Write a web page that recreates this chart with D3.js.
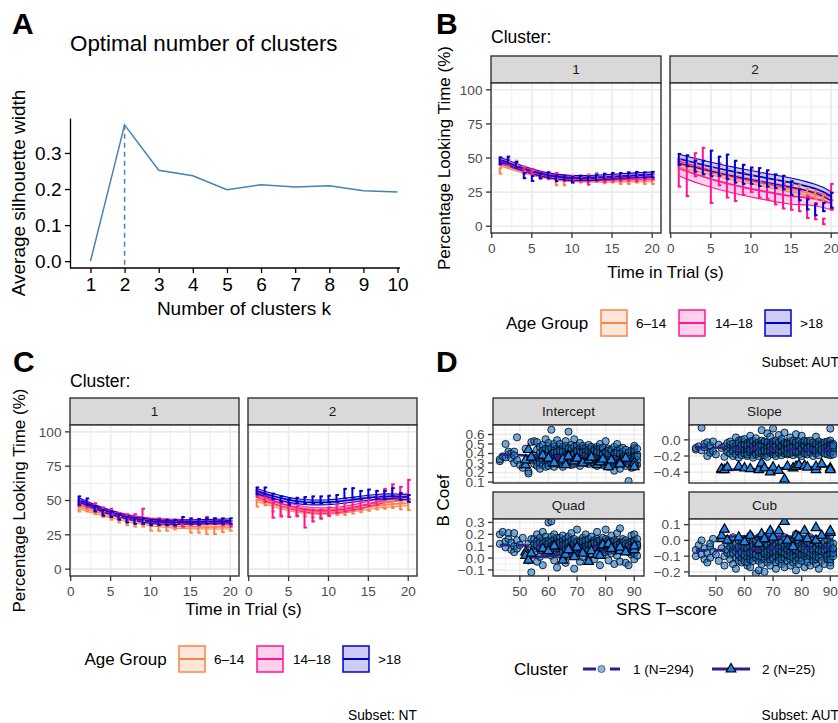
<!DOCTYPE html>
<html><head><meta charset="utf-8">
<script src="https://d3js.org/d3.v7.min.js"></script>
<style>
html,body{margin:0;padding:0;background:#fff;}
svg{display:block;}
</style></head><body>
<svg id="fig" width="838" height="723" xmlns="http://www.w3.org/2000/svg"></svg>
<script>
// ---------------- DATA ----------------
// Panel A: silhouette
const silK = [1,2,3,4,5,6,7,8,9,10];
const silWidth = [0.000,0.378,0.252,0.237,0.198,0.212,0.206,0.209,0.195,0.192];
const silTicks = [0.0,0.1,0.2,0.3];
const optimalK = 2;

// Panels B & C: looking time
const timeSec = [1,2,3,4,5,6,7,8,9,10,11,12,13,14,15,16,17,18,19,20];
const timeTicks = [0,5,10,15,20];
const pctTicks = [0,25,50,75,100];
const ageGroups = ["6\u201314","14\u201318",">18"];
const clusterLabels = ["1","2"];

// AUT, cluster 1  (order: 6-14, 14-18, >18)
const autC1Fit = [
 [45.8,43.9,42.0,40.3,38.8,37.4,36.3,35.4,34.7,34.2,33.9,33.8,33.8,33.8,33.9,33.9,34.0,34.0,34.1,34.1],
 [47.6,45.4,43.3,41.4,39.7,38.2,37.0,36.0,35.3,34.9,34.7,34.7,34.8,35.0,35.2,35.4,35.6,35.8,36.0,36.2],
 [49.0,46.6,44.3,42.2,40.3,38.7,37.4,36.4,35.8,35.4,35.3,35.4,35.6,35.9,36.2,36.6,36.9,37.3,37.6,38.0]];
const autC1Se = [1.5,1.5,1.8];
const autC1BarMid = [
 [40.6,45,46.3,42,39,37,37.5,32,32,34,34,36,37,33.5,34,33,33,34,33,33],
 [47,47,45,41,40,38,36.5,37,35,35,35,33,35,34.5,35,35,35.5,35,35.5,36],
 [48,48.5,45,37,35,37,37.5,35,35.5,34,35.5,35,35.8,36.5,37,37,37.5,37.8,37.5,37.8]];
const autC1BarErr = [
 [2,2,1.8,2,2,2,2,2,2,2,2,2,2,2,2,2,2,2,2,2],
 [2,2,2,2,2,2,2,2,2,2,2,2.5,2,2,2,2,2,2,2,2],
 [2.5,2.5,2,1.8,1.8,2,2,2,1.5,2,1.5,1.5,2,2,2,2,2,2,2,2]];

// AUT, cluster 2
const autC2Fit = [
 [45.5,44.0,42.5,41.0,39.6,38.2,36.8,35.5,34.2,33.0,31.8,30.6,29.4,28.2,27.0,25.8,24.4,22.9,21.0,18.7],
 [42.5,40.3,38.3,36.4,34.6,32.9,31.4,30.0,28.7,27.4,26.2,25.1,24.0,23.0,22.1,21.5,20.9,20.0,18.6,16.8],
 [49.5,48.0,46.5,45.0,43.6,42.3,41.0,39.8,38.6,37.5,36.4,35.3,34.2,33.1,32.0,30.7,29.2,27.5,25.3,22.0]];
const autC2Se = [2, [5.5,5.8,6,6,6,6,6,6,6,6,6,6,6,6,6,5.7,5.3,5,4.9,4.7], 3.3];
const autC2BarMid = [
 [46,44,43,41,40,41,39,37,42,40,36,33,31,30,28,27,25,23,20,16],
 [39,33.5,45,49.5,28,38,29,27,31,33,30,29,25,22,21,19,14,11,3.5,21.5],
 [49,48,44,43,46,44,43.5,40,38,37,36,35,33,32,28,23,16,12,14,19]];
const autC2BarErr = [
 [3,3,3,3,3,3,3,3,3,3,3,3,3,3,3,3,3,3,3,3],
 [10,11.5,8.5,8,11,8,8,8.5,8,8,9,9,9,9,9,8,8,6,2,9.5],
 [4,4,4,5,9.4,7,9,8,7,6,6.6,6,5,5,5,4,3.7,4,3,5.5]];

// NT, cluster 1
const ntC1Fit = [
 [45.5,43.7,42.0,40.4,38.9,37.5,36.2,35.0,34.0,33.1,32.4,31.8,31.4,31.1,30.9,30.8,30.7,30.7,30.7,30.7],
 [49.0,47.0,45.0,43.1,41.4,39.9,38.5,37.4,36.5,35.8,35.3,35.0,34.8,34.7,34.6,34.5,34.4,34.3,34.2,34.0],
 [50.5,48.0,45.6,43.4,41.4,39.6,38.0,36.7,35.7,34.9,34.4,34.2,34.1,34.2,34.3,34.5,34.6,34.8,35.0,35.2]];
const ntC1Se = [1.5,1.5,1.5];
const ntC1BarMid = [
 [44,44,42,40,38,36,34,33,33,30,30,30,31,32,29,29,28,28,29,30],
 [48,47,46,43,42,39,38,38,40,34,35,34,33,33,34,34,36,35,34,33],
 [50,49,44,41,40,38,36,35,35,34,34,34,34,36,35,34.5,35,35,35,35]];
const ntC1BarErr = [
 [2,2,2,2,2,2,2,2,2,2,2,2,2,2,2.5,2.5,2.5,2.5,2,2],
 [2,2,2,2,2,2,2,2,4,2,2,2,2,2,2,2,2,2,2,2],
 [3,2.5,2,2,2,2,2,2,2,2,2,2,2,2,2,2,2,2,2,2]];

// NT, cluster 2
const ntC2Fit = [
 [51.0,49.2,47.4,45.8,44.4,43.3,42.5,42.0,41.8,41.9,42.2,42.8,43.6,44.4,45.3,46.1,46.8,47.3,47.7,48.0],
 [54.5,52.2,50.0,48.0,46.2,44.7,43.6,42.9,42.6,42.7,43.1,43.8,44.8,46.0,47.4,48.9,50.3,51.5,52.4,53.0],
 [57.0,55.0,53.3,51.8,50.5,49.5,48.9,48.6,48.6,48.8,49.2,49.8,50.5,51.3,52.0,52.6,53.0,53.1,52.8,52.2]];
const ntC2Se = [1.8,2,1.8];
const ntC2BarMid = [
 [48,49,45,41,41,42,41,40,39,41,42,42,43,44,45,46,46.5,47,46,46],
 [55,52,43,44,42,42,37,39,40,42,44,45,46,47,49,50,55,57.5,56,58],
 [57,57,53,51,49,50,50,50.5,50.5,51,51.5,55,55.5,54,55,54,54,56,53,51.5]];
const ntC2BarErr = [
 [2.5,2.5,3,3,3,2.5,2.5,2.5,2.5,2.5,2.5,2.5,2.5,2.5,2.5,2.5,2.5,2.5,2.5,3],
 [2.5,3,5.5,5,4,3.5,6.7,4.3,3,3,3,3,3,3,3,3,3.5,4.3,4,7],
 [2.5,2.5,2,2,2,2,2.5,2.5,2.5,2.5,2.5,3.5,3.5,3,3,3,3,3,2.5,2.5]];

// Panel D: B coefficients vs SRS T-score
const coefNames = ["Intercept","Slope","Quad","Cub"];
const clusterLegend = ["1 (N=294)","2 (N=25)"];
const srsTicks = [50,60,70,80,90];
// cluster 1: SRS T-score frequency table [score, count]
const srsFreqC1 = [[43,2],[44,1],[45,2],[46,2],[47,2],[48,3],[49,2],[50,1],[51,1],[52,1],[53,2],[54,3],
 [55,4],[56,5],[57,5],[58,6],[59,6],[60,8],[61,8],[62,8],[63,8],[64,8],[65,8],[66,8],[67,8],[68,8],
 [69,8],[70,8],[71,8],[72,8],[73,8],[74,8],[75,8],[76,8],[77,8],[78,8],[79,8],[80,8],[81,8],
 [82,7],[83,7],[84,7],[85,7],[86,7],[87,5],[88,5],[89,6],[90,14],[91,5]];
// cluster 1 coefficients (x100), in the order of srsFreqC1
const interceptC1 = [32,34,37,50,36,39,42,40,35,42,38,30,57,33,28,25,45,21,19,33,36,52,
 53,38,34,29,44,52,36,31,27,41,47,35,30,24,39,49,43,37,33,28,45,34,40,31,26,55,
 42,36,48,30,38,51,27,44,35,40,46,33,29,65,39,37,43,31,36,47,26,41,34,50,38,45,32,40,54,29,36,42,
 38,45,33,41,29,50,36,43,40,35,47,31,44,38,26,42,53,37,34,45,39,30,48,36,41,63,35,44,32,39,46,37,
 43,28,40,49,34,38,45,31,36,42,55,33,40,47,29,39,44,37,32,48,41,35,43,30,38,46,34,40,51,36,42,27,
 45,33,39,44,31,48,37,41,35,43,30,46,39,34,42,38,49,32,40,36,44,29,41,37,33,45,38,42,35,47,31,39,
 40,34,45,31,38,43,36,29,47,35,41,33,44,38,27,42,36,50,32,39,45,34,41,30,37,44,33,40,28,46,35,39,
 42,31,38,53,34,41,29,36,45,33,39,26,43,37,31,40,
 35,42,30,38,44,33,27,40,36,47,31,39,22,34,43,29,37,50,33,41,28,36,45,32,38,24,40,34,31,42,37,29,46,35,33,
 38,30,44,34,27,36,11,41,29,33,32,39,25,43,35,30,40,33,46,29,37,35,42,26,38,44,31,36,48,34,39,28,45,33,37];
const slopeC1 = [-12,-10,-8,15,-13,-5,-9,-20,-3,-11,-7,-16,-2,-14,-18,-6,-10,-21,-8,-12,-4,-15,
 -11,-6,-17,-2,-13,-9,-20,-5,-14,3,-10,-18,-7,-12,-1,-15,-8,-22,-4,-11,-16,-9,-13,0,-19,-6,
 -10,-14,-3,-8,-17,-12,1,-6,-20,-9,-13,-4,-15,-11,-7,-18,-2,-10,-14,5,-8,-16,-12,-5,-19,-9,-3,-13,-11,-7,-22,-1,
 -9,-15,-4,-12,-18,-7,-11,2,-14,-6,-10,-20,-3,-13,-8,-16,-1,-11,-17,-5,-9,12,-14,-7,-12,-19,-4,-10,-15,-2,-8,-13,
 8,-6,-11,-17,-9,-3,-14,-21,-7,-12,-5,-16,-10,4,-13,-8,-18,-2,-11,-6,-15,-9,14,-12,-4,-17,-10,-7,-13,-1,-20,-8,
 -11,-5,-14,6,-9,-16,-3,-12,-7,-19,-10,-2,-13,-8,-15,1,-6,-11,-17,-4,-9,-14,9,-12,-3,-10,-18,-7,-13,-5,-11,-16,
 -8,-14,-2,-11,-17,-6,-10,3,-13,-7,-19,-4,-12,-9,-15,-1,-10,-16,-5,-12,7,-8,-14,-3,-11,-18,-6,-9,-13,-2,-15,-7,
 -10,-4,-12,-20,-8,-14,5,-11,-6,-16,-3,-9,-13,-7,-17,-1,
 -12,-5,-9,-15,-2,-11,-18,-7,-13,-4,-10,-16,-1,-8,-14,-6,-11,-20,-3,-9,-12,4,-15,-7,-10,-17,-5,-13,-8,-2,-11,-14,-6,-19,-9,
 -10,-4,-15,-7,-12,-13,-6,-9,-17,-3,-11,-5,-14,-8,-18,-2,-9,-15,-4,-12,-7,-19,-10,-1,-13,-6,-16,-8,14,-11,-14,-5,-10,-18,-7];
const quadC1 = [12,20,22,14,9,21,16,7,13,21,10,5,15,8,11,17,4,-2,12,16,-12,9,
 16,8,12,5,20,10,14,-3,11,7,17,13,1,9,22,6,15,10,-6,12,8,18,3,11,14,7,
 10,13,5,30,9,15,7,12,2,18,11,8,14,31,6,10,16,4,12,9,20,-2,11,7,14,10,5,17,8,13,-8,11,
 9,14,6,11,17,3,10,13,7,12,-1,15,9,5,11,19,8,13,4,10,16,7,12,-4,11,9,14,2,10,18,6,13,
 8,12,21,5,11,9,15,3,10,14,7,-9,12,8,16,6,11,4,13,9,24,7,10,14,5,12,8,15,-3,11,9,13,
 6,10,17,8,12,1,14,9,11,7,13,20,5,10,15,8,12,-2,9,14,6,11,7,16,10,13,4,9,12,18,8,11,
 9,15,6,12,-1,10,13,7,11,4,16,9,14,8,22,12,5,10,13,7,11,-6,15,9,12,6,10,17,8,13,3,11,
 14,9,24,7,12,5,10,16,8,13,-2,11,9,15,6,12,
 10,7,14,19,9,12,4,11,-5,13,8,15,6,10,12,21,9,14,2,11,7,13,10,25,8,12,-3,9,14,6,11,16,8,10,13,
 9,15,-4,12,7,11,5,13,-6,10,8,14,3,12,9,19,10,6,13,-1,11,8,15,20,9,12,4,14,7,10,12,2,9,16,11];
const cubC1 = [-10,-6,-3,-9,0,-12,-5,-8,-14,-4,-2,-11,-7,1,-9,-13,-5,-10,-16,-3,-8,-6,
 -4,-9,-1,-12,-6,-15,-3,-8,2,-11,-5,-18,-7,-2,-10,-13,0,-6,-9,-4,-14,-1,-7,-11,-3,-8,
 -5,-10,-2,-13,-7,1,-9,-4,-16,-6,-11,-3,-8,-14,0,-5,-12,-7,-2,-10,-17,-4,-8,3,-6,-11,-1,-9,-13,-5,-3,-7,
 -6,-11,-2,-8,-21,-4,-9,0,-13,-5,-7,-19,-3,-10,2,-6,-12,-4,-8,-1,-15,-6,-10,-3,-7,-20,-2,-9,-5,-12,1,-8,
 -4,-11,-6,-14,-2,-9,-7,-3,-10,4,-5,-13,-8,-1,-6,-16,-3,-9,-11,-4,-7,0,-12,-5,-8,-2,-14,-6,-10,-3,-18,-7,
 -1,-9,-4,-11,-6,3,-13,-5,-8,-2,-10,-15,-4,-7,-1,-12,-6,-9,2,-5,-11,-3,-8,-17,-4,-10,-7,-1,-13,-6,-2,-9,
 -5,-12,-3,-8,-16,-1,-7,-10,-4,-14,0,-6,-9,-2,-11,-5,-8,-19,-3,-7,4,-10,-6,-13,-2,-9,-5,-12,-1,-7,-15,-4,
 -8,-3,-11,-6,1,-9,-13,-5,-2,-10,-7,-17,-4,-8,0,-6,
 -9,-3,-12,-6,-1,-14,-7,-4,-10,2,-8,-16,-5,-2,-11,-7,-13,-3,-9,0,-6,-15,-4,-8,-1,-12,-5,-10,-3,-7,-18,-2,-9,-6,-11,
 -5,-10,-2,-13,-7,-4,-8,-15,-1,-6,-9,-3,-12,-6,0,-10,-7,-2,-11,-5,-14,-1,-8,-4,-16,-6,3,-9,-3,-12,-6,-10,-2,-8,-5];
// cluster 2 (N=25)
const srsC2 = [52,52,53,54,58,60,62,65,66,67,69,70,72,74,75,77,78,79,81,82,85,85,87,90,90];
const interceptC2 = [28,33,44,36,38,35,30,34,28,37,32,35,30,33,36,28,31,34,26,33,31,29,35,30,26];
const slopeC2 = [-37,-36,-37,-34,-33,-35,-36,-37,-29,-35,-40,-34,-38,-49,-33,-35,-33,-31,-32,-34,-37,-33,-30,-35,-37];
const quadC2 = [5,2,-2,4,8,6,10,-2,3,7,1,9,4,-3,6,3,2,11,12,8,6,9,5,7,10];
const cubC2 = [1,3,7,0,2,-1,3,-2,4,1,6,2,6,12,0,-4,3,2,6,1,0,8,3,5,6];
// fitted lines: [value at lowest score, value at highest score]
const coefFitC1 = [[0.39,0.34],[-0.09,-0.13],[0.11,0.09],[-0.065,-0.045]];
const coefFitC2 = [[0.37,0.29],[-0.375,-0.33],[0.0,0.08],[0.025,0.025]];
const coefTicks = [[0.1,0.2,0.3,0.4,0.5,0.6],[-0.4,-0.2,0.0],[-0.1,0.0,0.1,0.2,0.3],[-0.2,-0.1,0.0,0.1]];
const coefDomains = [[0.09,0.70],[-0.534,0.184],[-0.151,0.329],[-0.226,0.136]];

// ---------------- DRAWING ----------------
const FONT = "'Liberation Sans', Arial, Helvetica, sans-serif";
const ageColors = ["#FA8447","#FF1493","#0000CD"];
const GRID = "#EBEBEB", DARK = "#333333", TICKTXT = "#4D4D4D";
const svg = d3.select("#fig").style("font-family", FONT);
const defs = svg.append("defs");
svg.append("rect").attr("width",838).attr("height",723).attr("fill","#fff");

function text(g, x, y, s, size, o = {}) {
  const t = g.append("text").attr("x", x).attr("y", y).attr("font-size", size)
    .attr("fill", o.fill || "#000").attr("font-family", FONT).text(s);
  if (o.anchor) t.attr("text-anchor", o.anchor);
  if (o.weight) t.attr("font-weight", o.weight);
  if (o.rotate) t.attr("transform", `rotate(-90,${x},${y})`);
  return t;
}
function addClip(id, x, y, w, h) {
  defs.append("clipPath").attr("id", id).append("rect")
    .attr("x", x).attr("y", y).attr("width", w).attr("height", h);
}
function vline(g, x, y1, y2, col, wd) {
  g.append("line").attr("x1",x).attr("x2",x).attr("y1",y1).attr("y2",y2).attr("stroke",col).attr("stroke-width",wd);
}
function hline(g, y, x1, x2, col, wd) {
  g.append("line").attr("x1",x1).attr("x2",x2).attr("y1",y).attr("y2",y).attr("stroke",col).attr("stroke-width",wd);
}
function minorsOf(ticks, dom) {
  const step = ticks[1] - ticks[0];
  const out = ticks.map(t => t - step / 2).concat([ticks[ticks.length - 1] + step / 2]);
  return out.filter(v => v > dom[0] && v < dom[1]);
}
function gridAndBg(g, x0, y0, w, h, xs, ys, xMaj, yMaj) {
  g.append("rect").attr("x",x0).attr("y",y0).attr("width",w).attr("height",h).attr("fill","#fff");
  minorsOf(xMaj, xs.domain()).forEach(v => vline(g, xs(v), y0, y0 + h, GRID, 0.8));
  minorsOf(yMaj, ys.domain()).forEach(v => hline(g, ys(v), x0, x0 + w, GRID, 0.8));
  xMaj.forEach(v => vline(g, xs(v), y0, y0 + h, GRID, 1.6));
  yMaj.forEach(v => hline(g, ys(v), x0, x0 + w, GRID, 1.6));
}
function strip(g, x0, y0, w, h, s) {
  g.append("rect").attr("x",x0).attr("y",y0).attr("width",w).attr("height",h)
    .attr("fill","#D9D9D9").attr("stroke",DARK).attr("stroke-width",1.4);
  text(g, x0 + w / 2, y0 + h / 2 + 4.9, s, 13.6, {anchor:"middle", fill:"#1A1A1A"});
}
function border(g, x0, y0, w, h) {
  g.append("rect").attr("x",x0).attr("y",y0).attr("width",w).attr("height",h)
    .attr("fill","none").attr("stroke",DARK).attr("stroke-width",1.4);
}
function yAxisTicks(g, x0, ys, ticks, fmt) {
  ticks.forEach(v => {
    hline(g, ys(v), x0 - 5, x0, DARK, 1.3);
    text(g, x0 - 8.5, ys(v) + 4.8, fmt(v), 13.6, {anchor:"end", fill:TICKTXT});
  });
}
function xAxisTicks(g, yb, xs, ticks, fmt) {
  ticks.forEach(v => {
    vline(g, xs(v), yb, yb + 5, DARK, 1.3);
    text(g, xs(v), yb + 19.5, fmt(v), 13.6, {anchor:"middle", fill:TICKTXT});
  });
}

// ---------- Panel A ----------
(function panelA() {
  const g = svg.append("g");
  text(g, 12, 34, "A", 30, {weight:"bold"});
  text(g, 70, 51, "Optimal number of clusters", 22.4);
  const x = d3.scaleLinear().domain([0.4, 10.6]).range([70, 418]);
  const y = d3.scaleLinear().domain([-0.0189, 0.397]).range([268, 118]);
  const ya = g.append("g").attr("transform","translate(70,0)")
    .call(d3.axisLeft(y).tickValues(silTicks).tickFormat(d3.format(".1f")).tickSize(5).tickSizeOuter(0).tickPadding(3.5));
  const xa = g.append("g").attr("transform","translate(0,268)")
    .call(d3.axisBottom(x).tickValues(silK).tickFormat(d3.format("d")).tickSize(5).tickSizeOuter(0).tickPadding(5));
  xa.select(".domain").attr("d", "M70,0H400");
  [ya, xa].forEach(a => {
    a.attr("font-family", FONT).attr("font-size", 19);
    a.selectAll("path,line").attr("stroke","#000").attr("stroke-width",1.3);
    a.selectAll("text").attr("fill","#000");
  });
  g.append("line").attr("x1", x(optimalK)).attr("x2", x(optimalK))
    .attr("y1", y(silWidth[silK.indexOf(optimalK)])).attr("y2", 268)
    .attr("stroke","#4682B4").attr("stroke-width",1.5).attr("stroke-dasharray","5,4");
  g.append("path").datum(silK.map((k, i) => [k, silWidth[i]]))
    .attr("d", d3.line().x(d => x(d[0])).y(d => y(d[1])))
    .attr("fill","none").attr("stroke","#4682B4").attr("stroke-width",1.5);
  text(g, 244, 315, "Number of clusters k", 19, {anchor:"middle"});
  text(g, 25.3, 193, "Average silhouette width", 19, {anchor:"middle", rotate:true});
})();

// ---------- Panels B & C ----------
const timeDomain = [-0.09, 21.1];
const pctDomain = [-5, 105];
function timePanel(x0, y0, w, h, stripText, fit, se, mid, err, showY, id) {
  const g = svg.append("g");
  const x = d3.scaleLinear().domain(timeDomain).range([x0, x0 + w]);
  const y = d3.scaleLinear().domain(pctDomain).range([y0 + h, y0]);
  strip(g, x0, y0 - 27, w, 27, stripText);
  gridAndBg(g, x0, y0, w, h, x, y, timeTicks, pctTicks);
  addClip(id, x0, y0, w, h);
  const c = g.append("g").attr("clip-path", `url(#${id})`);
  const seAt = (s, i) => Array.isArray(s) ? s[i] : s;
  const idx = timeSec.map((t, i) => i);
  ageGroups.forEach((grp, k) => {
    c.append("path").datum(idx)
      .attr("d", d3.area().x(i => x(timeSec[i]))
        .y0(i => y(fit[k][i] - seAt(se[k], i))).y1(i => y(fit[k][i] + seAt(se[k], i))))
      .attr("fill", ageColors[k]).attr("fill-opacity", 0.2);
  });
  ageGroups.forEach((grp, k) => {
    [-1, 1].forEach(sg => {
      c.append("path").datum(idx)
        .attr("d", d3.line().x(i => x(timeSec[i])).y(i => y(fit[k][i] + sg * seAt(se[k], i))))
        .attr("fill","none").attr("stroke", ageColors[k]).attr("stroke-width", 1.1);
    });
    c.append("path").datum(idx)
      .attr("d", d3.line().x(i => x(timeSec[i])).y(i => y(fit[k][i])))
      .attr("fill","none").attr("stroke", ageColors[k]).attr("stroke-width", 1.7);
  });
  ageGroups.forEach((grp, k) => {
    timeSec.forEach((t, i) => {
      const px = x(t), top = y(mid[k][i] + err[k][i]), bot = y(mid[k][i] - err[k][i]);
      const col = ageColors[k];
      vline(c, px, top, bot, col, 2);
      hline(c, top, px - 1, px + 2.5, col, 2);
      hline(c, bot, px - 1, px + 2.5, col, 2);
    });
  });
  border(g, x0, y0, w, h);
  xAxisTicks(g, y0 + h, x, timeTicks, d3.format("d"));
  if (showY) yAxisTicks(g, x0, y, pctTicks, d3.format("d"));
}
function ageLegend(g, tx, cy, keyX, labX) {
  text(g, tx, cy + 6, "Age Group", 17);
  ageGroups.forEach((grp, k) => {
    g.append("rect").attr("x", keyX[k]).attr("y", cy - 13).attr("width", 26).attr("height", 26)
      .attr("fill", ageColors[k]).attr("fill-opacity", 0.2)
      .attr("stroke", ageColors[k]).attr("stroke-width", 1.5);
    hline(g, cy, keyX[k], keyX[k] + 26, ageColors[k], 2);
    text(g, labX[k], cy + 4.9, grp, 13.6);
  });
}

// Panel B (AUT)
(function panelB() {
  const g = svg.append("g");
  text(g, 436, 34, "B", 30, {weight:"bold"});
  text(g, 491, 43, "Cluster:", 17.5);
  timePanel(491, 83, 170, 150, clusterLabels[0], autC1Fit, autC1Se, autC1BarMid, autC1BarErr, true, "clipB1");
  timePanel(670, 83, 170, 150, clusterLabels[1], autC2Fit, autC2Se, autC2BarMid, autC2BarErr, false, "clipB2");
  text(g, 665.5, 278, "Time in Trial (s)", 17, {anchor:"middle"});
  text(g, 449.5, 158, "Percentage Looking Time (%)", 17, {anchor:"middle", rotate:true});
  ageLegend(svg.append("g"), 506, 323, [601, 679, 765], [636, 715, 800]);
  text(g, 839, 367, "Subset: AUT", 13.8, {anchor:"end"});
})();

// Panel C (NT)
(function panelC() {
  const g = svg.append("g");
  text(g, 13, 372, "C", 30, {weight:"bold"});
  text(g, 70, 386.5, "Cluster:", 17.5);
  timePanel(70, 425, 169, 151, clusterLabels[0], ntC1Fit, ntC1Se, ntC1BarMid, ntC1BarErr, true, "clipC1");
  timePanel(248, 425, 169, 151, clusterLabels[1], ntC2Fit, ntC2Se, ntC2BarMid, ntC2BarErr, false, "clipC2");
  text(g, 243.5, 615, "Time in Trial (s)", 17, {anchor:"middle"});
  text(g, 24.7, 500.5, "Percentage Looking Time (%)", 17, {anchor:"middle", rotate:true});
  ageLegend(svg.append("g"), 84.5, 659, [179, 257, 343], [214, 293, 378]);
  text(g, 417, 720, "Subset: NT", 13.8, {anchor:"end"});
})();

// ---------- Panel D ----------
(function panelD() {
  const g = svg.append("g");
  text(g, 436, 372, "D", 30, {weight:"bold"});
  const srsC1 = [];
  srsFreqC1.forEach(([s, n]) => { for (let j = 0; j < n; j++) srsC1.push(s); });
  const c1Vals = [interceptC1, slopeC1, quadC1, cubC1];
  const c2Vals = [interceptC2, slopeC2, quadC2, cubC2];
  const LINE = "#2D1F8C", PT = "#1874CD", TRI = "#1C86EE";
  const colX = [493, 689], rowY = [425, 519], rowH = [58, 57], W = 151;
  const xDom = [40.6, 93.4];
  const tri = d3.symbol().type(d3.symbolTriangle).size(40);
  coefNames.forEach((name, f) => {
    const r = Math.floor(f / 2), cI = f % 2;
    const x0 = colX[cI], y0 = rowY[r], h = rowH[r];
    const x = d3.scaleLinear().domain(xDom).range([x0, x0 + W]);
    const y = d3.scaleLinear().domain(coefDomains[f]).range([y0 + h, y0]);
    strip(g, x0, y0 - 27, W, 27, name);
    gridAndBg(g, x0, y0, W, h, x, y, srsTicks, coefTicks[f]);
    const id = "clipD" + f;
    addClip(id, x0, y0, W, h);
    const c = g.append("g").attr("clip-path", `url(#${id})`);
    const n1 = Math.min(srsC1.length, c1Vals[f].length);
    for (let i = 0; i < n1; i++) {
      c.append("circle").attr("cx", x(srsC1[i])).attr("cy", y(c1Vals[f][i] / 100)).attr("r", 3.6)
        .attr("fill", PT).attr("fill-opacity", 0.6).attr("stroke", "#000").attr("stroke-opacity", 0.8).attr("stroke-width", 1);
    }
    const e1 = d3.extent(srsC1), e2 = d3.extent(srsC2);
    c.append("line").attr("x1", x(e1[0])).attr("x2", x(e1[1]))
      .attr("y1", y(coefFitC1[f][0])).attr("y2", y(coefFitC1[f][1]))
      .attr("stroke", LINE).attr("stroke-width", 2.6).attr("stroke-dasharray", "10,8");
    c.append("line").attr("x1", x(e2[0])).attr("x2", x(e2[1]))
      .attr("y1", y(coefFitC2[f][0])).attr("y2", y(coefFitC2[f][1]))
      .attr("stroke", LINE).attr("stroke-width", 2.6);
    srsC2.forEach((s, i) => {
      c.append("path").attr("d", tri).attr("transform", `translate(${x(s)},${y(c2Vals[f][i] / 100)})`)
        .attr("fill", TRI).attr("stroke", "#000").attr("stroke-width", 1.2);
    });
    border(g, x0, y0, W, h);
    yAxisTicks(g, x0, y, coefTicks[f], d3.format(".1f"));
    if (r === 1) xAxisTicks(g, y0 + h, x, srsTicks, d3.format("d"));
  });
  text(g, 666.5, 615, "SRS T\u2013score", 17, {anchor:"middle"});
  text(g, 449, 500.5, "B Coef", 17, {anchor:"middle", rotate:true});
  // legend
  const cy = 669;
  text(g, 514, cy + 6, "Cluster", 17);
  g.append("line").attr("x1", 583).attr("x2", 620).attr("y1", cy).attr("y2", cy)
    .attr("stroke", LINE).attr("stroke-width", 3).attr("stroke-dasharray", "13,14");
  g.append("circle").attr("cx", 601.5).attr("cy", cy).attr("r", 3.6)
    .attr("fill", PT).attr("fill-opacity", 0.5).attr("stroke", "#000").attr("stroke-opacity", 0.5).attr("stroke-width", 1);
  text(g, 633, cy + 4.9, clusterLegend[0], 13.6);
  hline(g, cy, 712, 750, LINE, 3);
  g.append("path").attr("d", tri).attr("transform", `translate(731,${cy})`)
    .attr("fill", TRI).attr("stroke", "#000").attr("stroke-width", 1.2);
  text(g, 762, cy + 4.9, clusterLegend[1], 13.6);
  text(g, 839, 720, "Subset: AUT", 13.8, {anchor:"end"});
})();
</script>
</body></html>
